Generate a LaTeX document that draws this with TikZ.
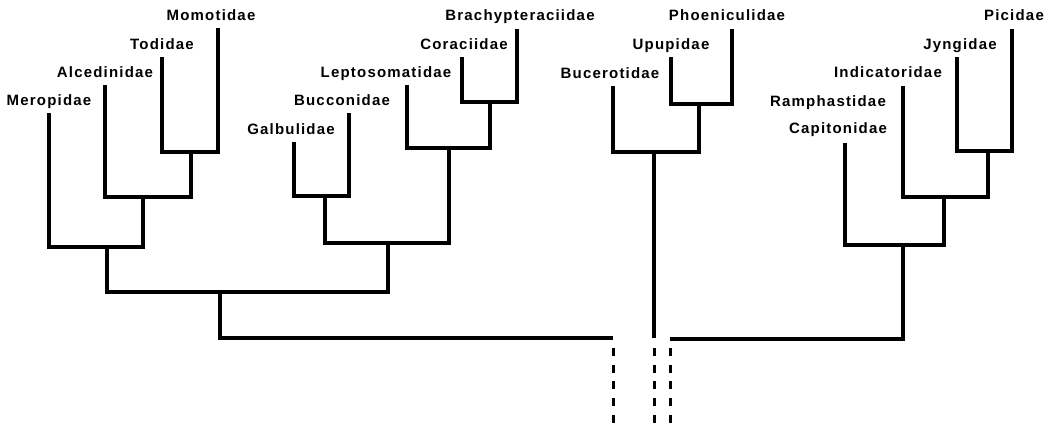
\documentclass[tikz,border=0pt]{standalone}
\usepackage{fontspec}
\setmainfont{Liberation Sans}
\newfontfamily\taxonfont{Liberation Sans}[LetterSpace=8]
\usetikzlibrary{positioning}

\tikzset{
  branch/.style={line width=3.3pt, line join=miter},
  stub/.style={line width=3pt, dash pattern=on 8pt off 8.7pt},
  taxon/.style={font={\taxonfont\bfseries\fontsize{15}{18}\selectfont}, inner sep=0pt, anchor=base}
}

\begin{document}
\begin{tikzpicture}[x=1pt, y=-1pt]
    % 1. Page frame (y runs downwards)
    \useasboundingbox (0,0) rectangle (1055,431);

    % 2. Tips of the tree
    \coordinate (merop) at (49,113);
    \coordinate (alced) at (105,85);
    \coordinate (todid) at (162,57);
    \coordinate (momot) at (218,28);
    \coordinate (galbu) at (294,142);
    \coordinate (bucco) at (349,113);
    \coordinate (lepto) at (407,85);
    \coordinate (corac) at (462,57);
    \coordinate (brach) at (517,29);
    \coordinate (bucer) at (613,86);
    \coordinate (upupi) at (671,57);
    \coordinate (phoen) at (732,29);
    \coordinate (capit) at (845,143);
    \coordinate (indic) at (903,86);
    \coordinate (jyngi) at (957,57);
    \coordinate (picid) at (1012,29);

    % 3. Branching points
    \coordinate (j1) at (191,152);
    \coordinate (j2) at (143,197);
    \coordinate (j3) at (107,247);
    \coordinate (j4) at (325,196);
    \coordinate (j5) at (490,102);
    \coordinate (j6) at (449,148);
    \coordinate (j7) at (388,243);
    \coordinate (j8) at (220,292);
    \coordinate (j9) at (699,104);
    \coordinate (j10) at (654,152);
    \coordinate (j11) at (988,151);
    \coordinate (j12) at (944,197);
    \coordinate (j13) at (903,245);

    % 4. Ends of the three stems
    \coordinate (lend) at (613,338);
    \coordinate (mend) at (654,338);
    \coordinate (rend) at (670,339);
    \coordinate (dtop) at (0,348);
    \coordinate (dbot) at (0,431);

    % 5. Names
    \node[above=8pt of merop, taxon] (meropidae) {Meropidae};
    \node[above=8pt of alced, taxon] (alcedinidae) {Alcedinidae};
    \node[above=8pt of todid, taxon] (todidae) {Todidae};
    \node[above=8pt of momot, taxon, xshift=-7pt] (momotidae) {Momotidae};
    \node[above=8pt of galbu, taxon, xshift=-3pt] (galbulidae) {Galbulidae};
    \node[above=8pt of bucco, taxon, xshift=-7pt] (bucconidae) {Bucconidae};
    \node[above=8pt of lepto, taxon, xshift=-21pt] (leptosomatidae) {Leptosomatidae};
    \node[above=8pt of corac, taxon, xshift=2pt] (coraciidae) {Coraciidae};
    \node[above=9pt of brach, taxon, xshift=3pt] (brachypteraciidae) {Brachypteraciidae};
    \node[above=8pt of bucer, taxon, xshift=-3pt] (bucerotidae) {Bucerotidae};
    \node[above=8pt of upupi, taxon] (upupidae) {Upupidae};
    \node[above=9pt of phoen, taxon, xshift=-5pt] (phoeniculidae) {Phoeniculidae};
    \node[above=10pt of capit, taxon, xshift=-7pt] (capitonidae) {Capitonidae};
    \node[above=27pt of capitonidae.base, taxon, xshift=-10pt] (ramphastidae) {Ramphastidae};
    \node[above=9pt of indic, taxon, xshift=-15pt] (indicatoridae) {Indicatoridae};
    \node[above=8pt of jyngi, taxon, xshift=3pt] (jyngidae) {Jyngidae};
    \node[above=9pt of picid, taxon, xshift=2pt] (picidae) {Picidae};

    % 6. Left clade
    \draw[branch] (todid) |- (j1) -| (momot);
    \draw[branch] (alced) |- (j2) -| (j1);
    \draw[branch] (merop) |- (j3) -| (j2);
    \draw[branch] (galbu) |- (j4) -| (bucco);
    \draw[branch] (corac) |- (j5) -| (brach);
    \draw[branch] (lepto) |- (j6) -| (j5);
    \draw[branch] (j4) |- (j7) -| (j6);
    \draw[branch] (j3) |- (j8) -| (j7);
    \draw[branch] (j8) |- (lend);

    % 7. Middle clade
    \draw[branch] (upupi) |- (j9) -| (phoen);
    \draw[branch] (bucer) |- (j10) -| (j9);
    \draw[branch] (j10) -- (mend);

    % 8. Right clade
    \draw[branch] (jyngi) |- (j11) -| (picid);
    \draw[branch] (indic) |- (j12) -| (j11);
    \draw[branch] (capit) |- (j13) -| (j12);
    \draw[branch] (j13) |- (rend);

    % 9. Dashed continuations
    \draw[stub] (lend |- dtop) -- (lend |- dbot);
    \draw[stub] (mend |- dtop) -- (mend |- dbot);
    \draw[stub] (rend |- dtop) -- (rend |- dbot);
\end{tikzpicture}
\end{document}
